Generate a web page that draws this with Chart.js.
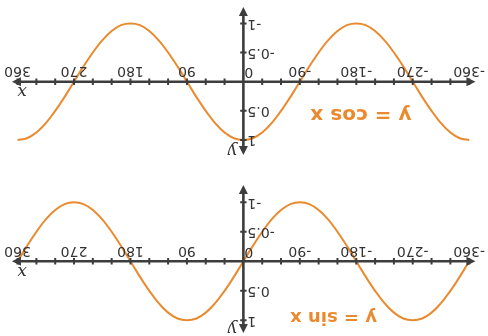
<!DOCTYPE html>
<html>
<head>
<meta charset="utf-8">
<script src="https://cdn.jsdelivr.net/npm/chart.js@4.4.0/dist/chart.umd.min.js"></script>
<style>
  html, body { margin: 0; padding: 0; background: #ffffff; }
  #stage {
    position: absolute; left: 0; top: 0;
    width: 488px; height: 336px;
    transform: rotate(180deg);
    transform-origin: 244px 168px;
  }
  canvas { display: block; }
</style>
</head>
<body>
<div id="stage">
  <canvas id="sinChart" width="488" height="168"></canvas>
  <canvas id="cosChart" width="488" height="168"></canvas>
</div>
<script>
// Angles in degrees, one sample every 15°
const degrees = [
  -360, -345, -330, -315, -300, -285, -270, -255, -240, -225, -210, -195,
  -180, -165, -150, -135, -120, -105, -90, -75, -60, -45, -30, -15,
  0, 15, 30, 45, 60, 75, 90, 105, 120, 135, 150, 165,
  180, 195, 210, 225, 240, 255, 270, 285, 300, 315, 330, 345, 360
];
const sinValues = [
  0, 0.26, 0.5, 0.71, 0.87, 0.97, 1, 0.97, 0.87, 0.71, 0.5, 0.26,
  0, -0.26, -0.5, -0.71, -0.87, -0.97, -1, -0.97, -0.87, -0.71, -0.5, -0.26,
  0, 0.26, 0.5, 0.71, 0.87, 0.97, 1, 0.97, 0.87, 0.71, 0.5, 0.26,
  0, -0.26, -0.5, -0.71, -0.87, -0.97, -1, -0.97, -0.87, -0.71, -0.5, -0.26, 0
];
const cosValues = [
  1, 0.97, 0.87, 0.71, 0.5, 0.26, 0, -0.26, -0.5, -0.71, -0.87, -0.97,
  -1, -0.97, -0.87, -0.71, -0.5, -0.26, 0, 0.26, 0.5, 0.71, 0.87, 0.97,
  1, 0.97, 0.87, 0.71, 0.5, 0.26, 0, -0.26, -0.5, -0.71, -0.87, -0.97,
  -1, -0.97, -0.87, -0.71, -0.5, -0.26, 0, 0.26, 0.5, 0.71, 0.87, 0.97, 1
];

// Axis marks and labels
const xTickValues = [
  -360, -330, -300, -270, -240, -210, -180, -150, -120, -90, -60, -30,
  30, 60, 90, 120, 150, 180, 210, 240, 270, 300, 330, 360
];
const xLabelValues = [-360, -270, -180, -90, 90, 180, 270, 360];
const yTickValues = [-1, -0.5, 0.5, 1];
const yLabelValues = [-1, -0.5, 0.5, 1];

const AXIS = '#3d3d3d';
const CURVE = '#ea8a2e';
const LABEL_FONT = '14px "DejaVu Sans", sans-serif';
const VAR_FONT = 'italic 17px "DejaVu Serif", serif';

function fmt(v) { return String(v); }

function arrow(ctx, x, y, dx, dy) {
  // dx,dy: unit direction the arrow points to
  const len = 9, half = 4.5;
  const px = -dy, py = dx;
  ctx.beginPath();
  ctx.moveTo(x, y);
  ctx.lineTo(x - dx * len + px * half, y - dy * len + py * half);
  ctx.lineTo(x - dx * len - px * half, y - dy * len - py * half);
  ctx.closePath();
  ctx.fill();
}

const axesPlugin = {
  id: 'axes',
  afterDatasetsDraw(chart, args, opts) {
    const { ctx } = chart;
    const xs = chart.scales.x, ys = chart.scales.y;
    const ox = xs.getPixelForValue(0), oy = ys.getPixelForValue(0);
    const xl = xs.getPixelForValue(opts.xEnds[0]), xr = xs.getPixelForValue(opts.xEnds[1]);
    const yb = ys.getPixelForValue(opts.yEnds[0]), yt = ys.getPixelForValue(opts.yEnds[1]);
    ctx.save();
    ctx.strokeStyle = AXIS;
    ctx.fillStyle = AXIS;
    ctx.lineCap = 'butt';

    // axis lines
    ctx.lineWidth = 2.6;
    ctx.beginPath();
    ctx.moveTo(xl + 5, oy); ctx.lineTo(xr - 5, oy);
    ctx.moveTo(ox, yb - 5); ctx.lineTo(ox, yt + 5);
    ctx.stroke();
    arrow(ctx, xr, oy, 1, 0);
    arrow(ctx, xl, oy, -1, 0);
    arrow(ctx, ox, yt, 0, -1);
    arrow(ctx, ox, yb, 0, 1);

    // tick marks
    ctx.lineWidth = 2;
    ctx.beginPath();
    xTickValues.forEach(v => {
      const p = xs.getPixelForValue(v);
      ctx.moveTo(p, oy - 3.2); ctx.lineTo(p, oy + 3.2);
    });
    yTickValues.forEach(v => {
      const p = ys.getPixelForValue(v);
      ctx.moveTo(ox - 3.2, p); ctx.lineTo(ox + 3.2, p);
    });
    ctx.stroke();

    // tick labels
    ctx.fillStyle = '#333333';
    ctx.font = LABEL_FONT;
    ctx.textAlign = 'center';
    ctx.textBaseline = 'middle';
    xLabelValues.forEach(v => {
      ctx.fillText(fmt(v), xs.getPixelForValue(v), oy + 11);
    });
    ctx.textAlign = 'right';
    yLabelValues.forEach(v => {
      ctx.fillText(fmt(v), ox - 4, ys.getPixelForValue(v));
    });
    ctx.fillText('0', ox - 1, oy + 10);

    // axis names
    ctx.font = VAR_FONT;
    ctx.textAlign = 'center';
    ctx.fillText('x', xr - 10, oy - 10);
    ctx.fillText('y', ox + 11, yt + 5);

    // formula caption
    ctx.fillStyle = CURVE;
    ctx.font = opts.titleFont;
    ctx.textAlign = 'left';
    ctx.textBaseline = 'middle';
    ctx.fillText(opts.title, xs.getPixelForValue(opts.titleAt[0]), ys.getPixelForValue(opts.titleAt[1]));
    ctx.restore();
  }
};

function makeChart(id, values, yMin, yMax, yEnds, title, titleAt, titleFont) {
  const points = degrees.map((d, i) => ({ x: d, y: values[i] }));
  return new Chart(document.getElementById(id), {
    type: 'line',
    data: {
      datasets: [{
        data: points,
        borderColor: CURVE,
        borderWidth: 2,
        pointRadius: 0,
        cubicInterpolationMode: 'monotone',
        fill: false
      }]
    },
    options: {
      responsive: false,
      animation: false,
      layout: { padding: 0 },
      scales: {
        x: { type: 'linear', min: -390, max: 388, display: false },
        y: { type: 'linear', min: yMin, max: yMax, display: false }
      },
      plugins: {
        legend: { display: false },
        tooltip: { enabled: false },
        axes: {
          xEnds: [-370, 369],
          yEnds: yEnds,
          title: title,
          titleAt: titleAt,
          titleFont: titleFont
        }
      }
    },
    plugins: [axesPlugin]
  });
}

makeChart('sinChart', sinValues, -1.581, 1.266, [-1.293, 1.215],
  'y = sin x', [-213, 0.93], 'bold 18px "DejaVu Sans", sans-serif');
makeChart('cosChart', cosValues, -1.401, 1.480, [-1.281, 1.257],
  'y = cos x', [-268, 0.56], 'bold 20px "DejaVu Sans", sans-serif');
</script>
</body>
</html>
